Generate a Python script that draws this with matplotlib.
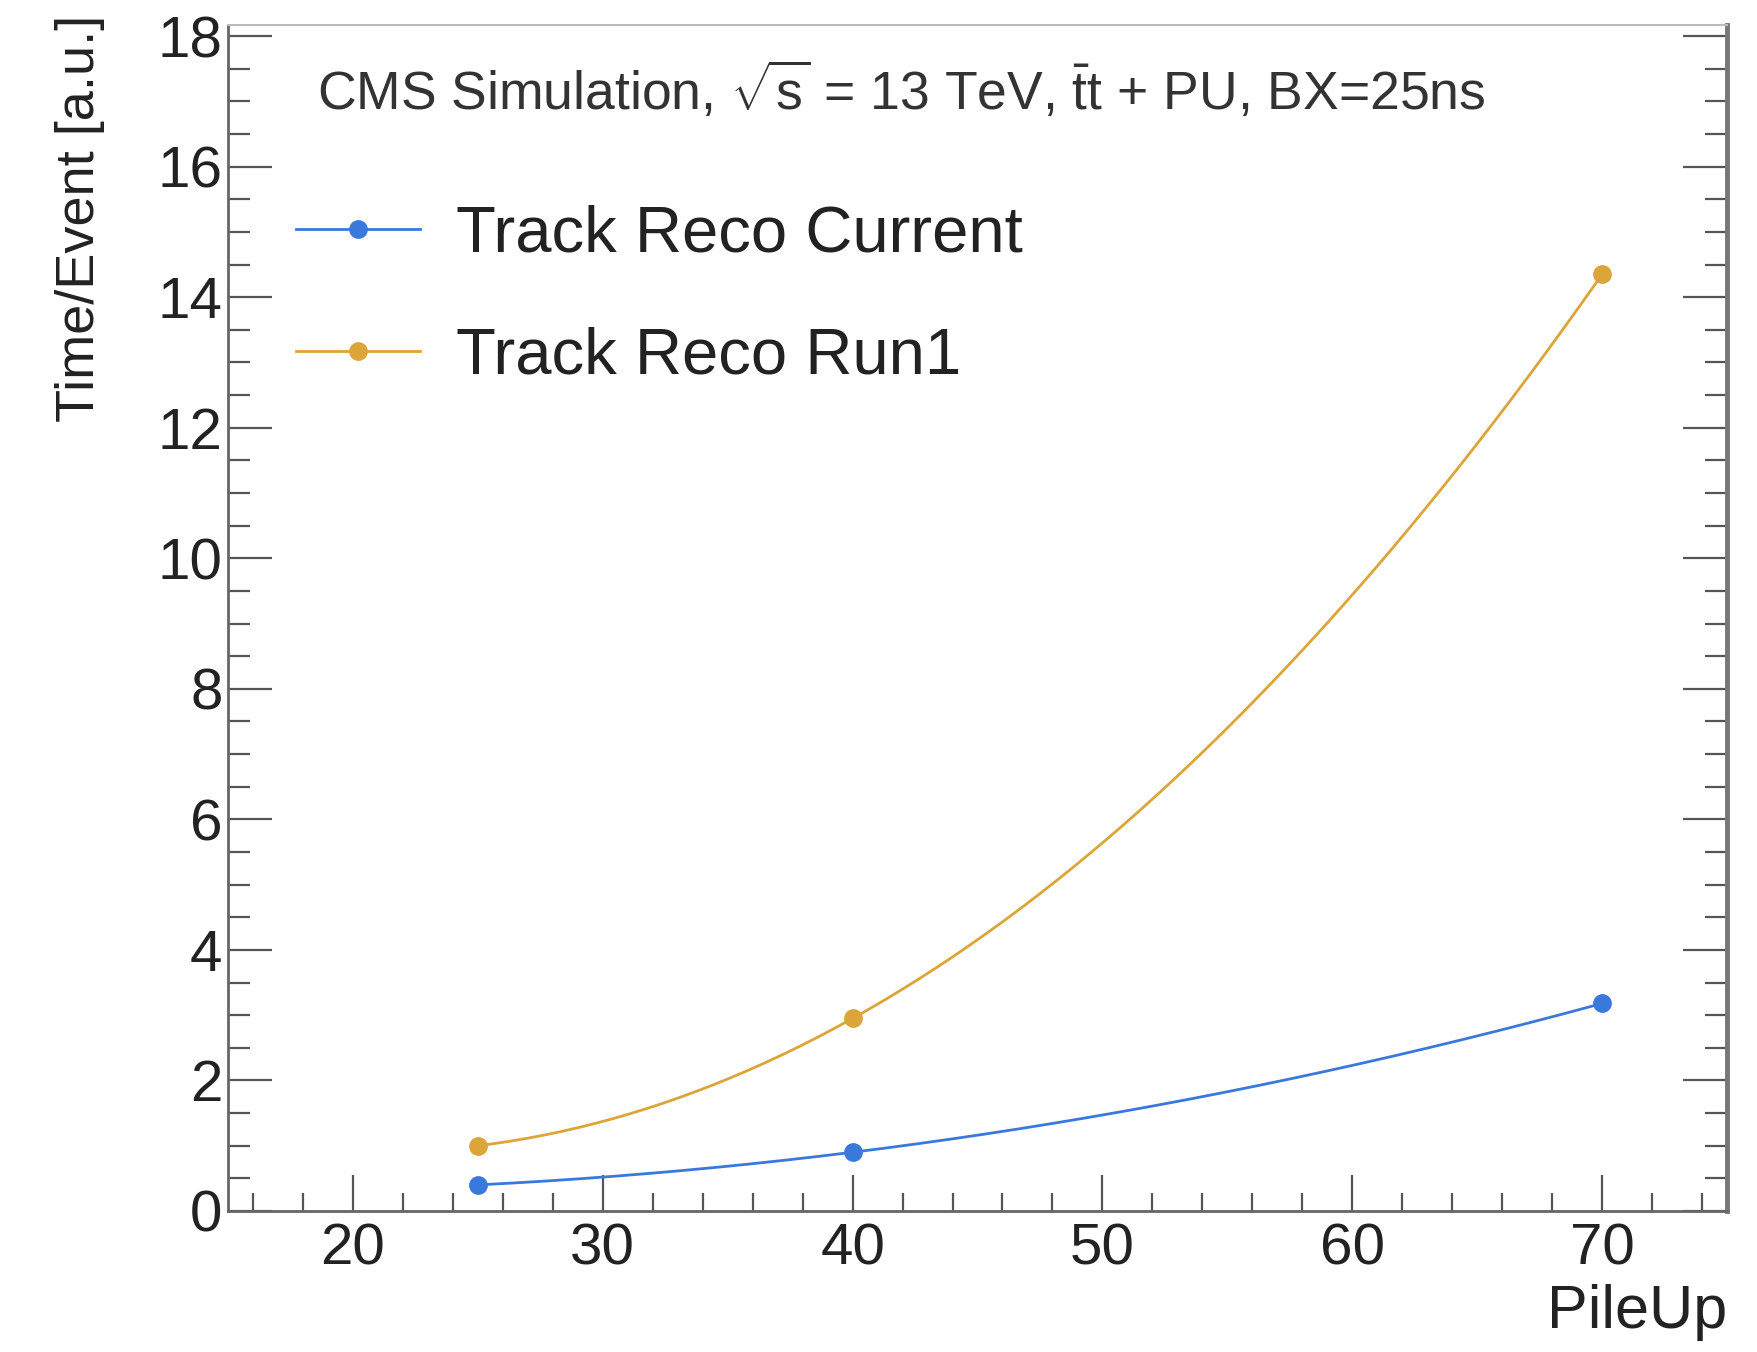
import numpy as np
import matplotlib.pyplot as plt
from matplotlib.ticker import MultipleLocator

plt.rcParams['font.family'] = ['Liberation Sans', 'DejaVu Sans']
plt.rcParams['mathtext.fontset'] = 'custom'
plt.rcParams['mathtext.rm'] = 'Liberation Sans'
plt.rcParams['mathtext.it'] = 'Liberation Sans'
plt.rcParams['mathtext.bf'] = 'Liberation Sans:bold'

# data
pileup = [25, 40, 70]
time_current = [0.40, 0.90, 3.18]
time_run1 = [1.00, 2.95, 14.35]
labels = ['Track Reco Current', 'Track Reco Run1']
colors = ['#3a78dc', '#dba53a']

fig = plt.figure(figsize=(17.58, 13.52), dpi=100)
ax = fig.add_axes([228/1758, 1 - 1211/1352, (1727-228)/1758, (1211-25)/1352])

# smooth line through the points (like ROOT "C" option), markers on the points
xs = np.linspace(min(pileup), max(pileup), 200)
for ys, lab, c in zip([time_current, time_run1], labels, colors):
    coef = np.polyfit(pileup, ys, 2)
    ax.plot(xs, np.polyval(coef, xs), color=c, lw=2)
    ax.plot(pileup, ys, 'o', color=c, ms=12.5)
    ax.plot([], [], '-o', color=c, lw=2, ms=12.5, label=lab)

ax.set_xlim(15, 75)
ax.set_ylim(0, 18.17)
ax.xaxis.set_major_locator(MultipleLocator(10))
ax.xaxis.set_minor_locator(MultipleLocator(2))
ax.yaxis.set_major_locator(MultipleLocator(2))
ax.yaxis.set_minor_locator(MultipleLocator(0.5))
ax.set_xticks([20, 30, 40, 50, 60, 70])

ax.tick_params(which='both', direction='in', colors='#555555', labelcolor='#222222',
               labelsize=42, right=True, top=False, width=1.6)
ax.tick_params(axis='x', which='major', length=26, pad=8)
ax.tick_params(axis='x', which='minor', length=13)
ax.tick_params(axis='y', which='major', length=32, pad=4)
ax.tick_params(axis='y', which='minor', length=16)

for s in ['left', 'bottom']:
    ax.spines[s].set_color('#666666')
    ax.spines[s].set_linewidth(2)
ax.spines['right'].set_color('#777777')
ax.spines['right'].set_linewidth(3.5)
ax.spines['top'].set_color('#bbbbbb')
ax.spines['top'].set_linewidth(1.5)

fig.text(80/1758, 1 - 15/1352, 'Time/Event [a.u.]', rotation=90, ha='center', va='top',
         fontsize=39, color='#222222')
fig.text(1727/1758, 1 - 1328/1352, 'PileUp', ha='right', va='baseline',
         fontsize=44, color='#222222')

ax.text(317/1758, 1 - 90/1352, r'CMS Simulation, $\sqrt{s}$ = 13 TeV, $\bar{\mathrm{t}}$t + PU, BX=25ns',
        transform=fig.transFigure, ha='left', va='center', fontsize=38.5, color='#333333')

ax.legend(loc='upper left', bbox_to_anchor=(263/1758, 1 - 172/1352),
          bbox_transform=fig.transFigure, frameon=False, fontsize=47,
          handlelength=1.9, handletextpad=0.55, labelspacing=0.95, borderpad=0,
          labelcolor='#222222')

fig.savefig('out.png', dpi=100)
